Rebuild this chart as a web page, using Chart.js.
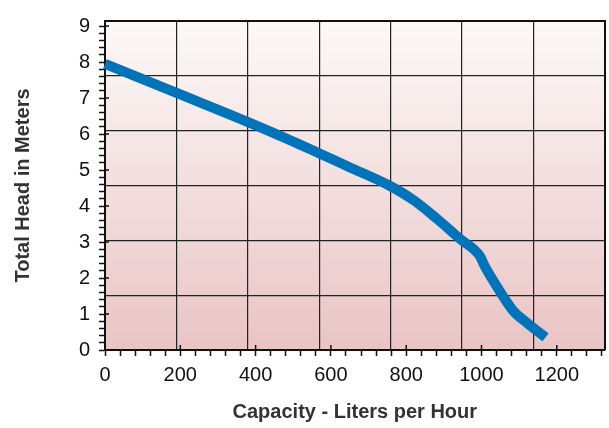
<!DOCTYPE html>
<html>
<head>
<meta charset="utf-8">
<script src="https://cdn.jsdelivr.net/npm/chart.js@4"></script>
<style>
  html, body { margin: 0; padding: 0; background: #fff; }
  #wrap { width: 609px; height: 428px; position: relative; }
</style>
</head>
<body>
<div id="wrap"><canvas id="c"></canvas></div>
<script>
Chart.defaults.animation = false;
Chart.defaults.font.family = "'Liberation Sans', Arial, sans-serif";
Chart.defaults.color = "#222";

// pump curve: capacity (L/h) vs head (m)
const capacity = [0, 190, 380, 515, 570, 645, 755, 820, 880, 945, 995, 1010, 1055, 1085, 1120, 1170];
const head = [7.95, 7.14, 6.33, 5.72, 5.46, 5.1, 4.57, 4.16, 3.66, 3.07, 2.62, 2.3, 1.53, 1.08, 0.76, 0.35];
const xMajor = [0, 200, 400, 600, 800, 1000, 1200];
const yMajor = [0, 1, 2, 3, 4, 5, 6, 7, 8, 9];

const INK = "#111";

// pinkish vertical gradient behind the plot
const bgPlugin = {
  id: "bg",
  beforeDraw(chart) {
    const { ctx, chartArea: a } = chart;
    const g = ctx.createLinearGradient(0, a.top, 0, a.bottom);
    g.addColorStop(0, "#fcf9f8");
    g.addColorStop(1, "#e9c4c5");
    ctx.save();
    ctx.fillStyle = g;
    ctx.fillRect(a.left, a.top, a.right - a.left, a.bottom - a.top);
    ctx.restore();
  },
};

// major ticks also poke a little into the plot
const innerTicks = {
  id: "innerTicks",
  beforeDatasetsDraw(chart) {
    const { ctx, chartArea: a, scales } = chart;
    ctx.save();
    ctx.strokeStyle = INK;
    ctx.lineWidth = 1.5;
    ctx.beginPath();
    xMajor.forEach((v) => {
      const px = scales.x.getPixelForValue(v);
      ctx.moveTo(px, a.bottom);
      ctx.lineTo(px, a.bottom - 5);
    });
    yMajor.forEach((v) => {
      const py = scales.y.getPixelForValue(v);
      ctx.moveTo(a.left, py);
      ctx.lineTo(a.left + 4, py);
    });
    ctx.stroke();
    ctx.restore();
  },
};

const isWhole = (v, step) => Math.abs(v / step - Math.round(v / step)) < 1e-6;

new Chart(document.getElementById("c"), {
  type: "line",
  data: {
    datasets: [{
      data: capacity.map((c, i) => ({ x: c, y: head[i] })),
      borderColor: "#0073b9",
      borderWidth: 10,
      borderCapStyle: "butt",
      borderJoinStyle: "round",
      pointRadius: 0,
      cubicInterpolationMode: "monotone",
      fill: false,
      clip: false,
    }],
  },
  options: {
    responsive: true,
    maintainAspectRatio: false,
    layout: { padding: { top: 14, right: 1, bottom: 0, left: 0 } },
    plugins: { legend: { display: false }, tooltip: { enabled: false } },
    scales: {
      x: {
        type: "linear",
        min: 0,
        max: 1327,
        afterFit: (s) => { s.height = 78; },
        grid: { drawOnChartArea: false, drawTicks: true, tickLength: 6, tickColor: INK, tickWidth: 1.5 },
        border: { display: true, color: INK, width: 2 },
        ticks: {
          stepSize: 40,
          includeBounds: false,
          autoSkip: false,
          maxRotation: 0,
          padding: 7,
          color: "#111",
          font: { size: 20 },
          callback: (v) => (isWhole(v, 200) ? String(Math.round(v)) : ""),
        },
        title: {
          display: true,
          text: "Capacity - Liters per Hour",
          color: "#333",
          font: { size: 20, weight: "bold" },
          padding: { top: 0, bottom: 4 },
        },
      },
      y: {
        type: "linear",
        min: 0,
        max: 9.14,
        afterFit: (s) => { s.width = 105; },
        grid: { drawOnChartArea: false, drawTicks: true, tickLength: 6, tickColor: INK, tickWidth: 1.5 },
        border: { display: true, color: INK, width: 2 },
        ticks: {
          stepSize: 0.2,
          includeBounds: false,
          autoSkip: false,
          padding: 9,
          color: "#111",
          font: { size: 20 },
          callback: (v) => (isWhole(v, 1) ? String(Math.round(v)) : ""),
        },
        title: {
          display: true,
          text: "Total Head in Meters",
          color: "#333",
          font: { size: 20, weight: "bold" },
          padding: { top: 11, bottom: 0 },
        },
      },
      // plain grid, independent of the tick marks: 7 columns x 6 rows
      gx: {
        type: "linear",
        position: "top",
        min: 0,
        max: 7,
        afterFit: (s) => { s.height = 0; },
        grid: { color: "#222", lineWidth: 1.2, drawTicks: false },
        border: { display: true, color: INK, width: 2 },
        ticks: { display: false, stepSize: 1 },
      },
      gy: {
        type: "linear",
        position: "right",
        min: 0,
        max: 6,
        afterFit: (s) => { s.width = 0; },
        grid: { color: "#222", lineWidth: 1.2, drawTicks: false },
        border: { display: true, color: INK, width: 2 },
        ticks: { display: false, stepSize: 1 },
      },
    },
  },
  plugins: [bgPlugin, innerTicks],
});
</script>
</body>
</html>
